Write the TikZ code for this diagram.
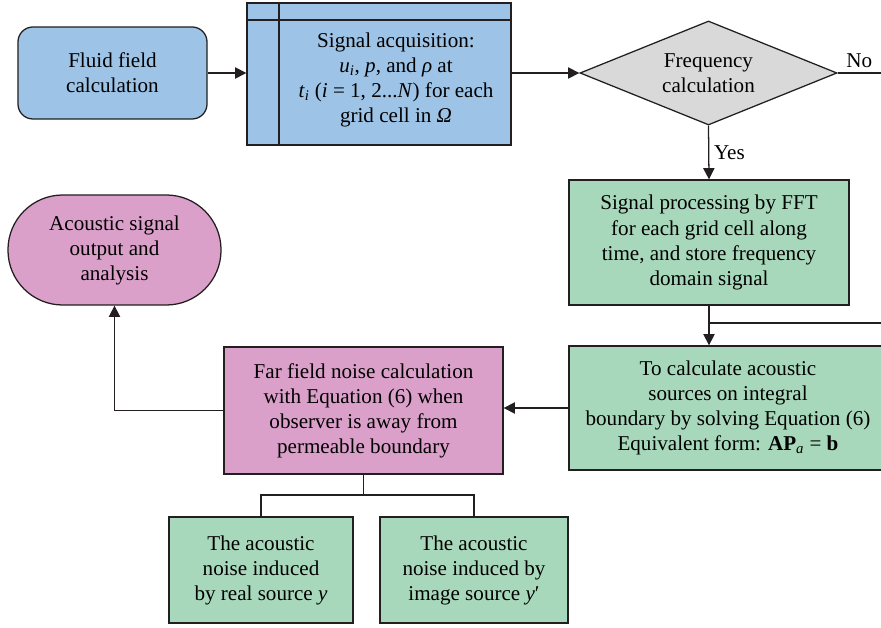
\documentclass[tikz,border=0pt]{standalone}
\usepackage{fontspec}
\setmainfont{Liberation Serif}
\usetikzlibrary{arrows.meta,shapes.geometric}

\definecolor{acqblue}{RGB}{157,195,230}
\definecolor{procgreen}{RGB}{168,216,187}
\definecolor{outpink}{RGB}{219,160,201}
\definecolor{decgray}{RGB}{217,217,217}
\definecolor{linegray}{RGB}{35,31,32}

\tikzset{
  box/.style={draw=linegray,line width=0.9pt,align=center,inner sep=0pt},
  arr/.style={-{Triangle[length=8pt,width=8pt]}},
}

\begin{document}
\begin{tikzpicture}[x=0.025cm,y=-0.025cm,line width=0.9pt,draw=linegray,
    font=\fontsize{15}{17.8}\selectfont]
  \useasboundingbox (0,0) rectangle (881,628);
  \node[box,fill=acqblue,rounded corners=0.375cm,minimum width=4.725cm,minimum height=2.3cm] (fluid) at (112.5,73) {Fluid field\\calculation};
  \node[box,fill=acqblue,minimum width=6.6cm,minimum height=3.55cm] (sigacq) at (379,74) {};
  \node[align=center] (sigtxt) at (396,80) {Signal acquisition:\\\textit{u}\textsubscript{\textit{i}}, \textit{p}, and \textit{ρ} at\\\textit{t}\textsubscript{\textit{i}} (\textit{i} = 1, 2...\textit{N}) for each\\grid cell in \textit{Ω}};
  \node[box,diamond,aspect=2.5,fill=decgray,minimum width=6.425cm,minimum height=2.6cm] (freq) at (708.5,73) {Frequency\\calculation};
  \node[box,fill=procgreen,minimum width=7cm,minimum height=3.125cm] (sigproc) at (709,242.5) {Signal processing by FFT\\for each grid cell along\\time, and store frequency\\domain signal};
  \node[box,fill=procgreen,minimum width=7.95cm,minimum height=3.1cm] (calc) at (728,408) {To calculate acoustic\\sources on integral\\boundary by solving Equation (6)\\Equivalent form: \textbf{AP}\textsubscript{\textit{a}} = \textbf{b}};
  \node[box,fill=outpink,minimum width=6.975cm,minimum height=3.175cm] (farfield) at (363.5,410.5) {Far field noise calculation\\with Equation (6) when\\observer is away from\\permeable boundary};
  \node[box,fill=outpink,rounded corners=1.37cm,minimum width=5.325cm,minimum height=2.75cm] (output) at (114.5,250) {Acoustic signal\\output and\\analysis};
  \node[box,fill=procgreen,minimum width=4.6cm,minimum height=2.65cm] (real) at (261,570) {The acoustic\\noise induced\\by real source \textit{y}};
  \node[box,fill=procgreen,minimum width=4.7cm,minimum height=2.65cm] (image) at (474,570) {The acoustic\\noise induced by\\image source \textit{y}′};
  \coordinate (noout) at (881,73);
  \coordinate (loopin) at (881,323);
  \coordinate (split) at (farfield.south |- 0,495);
  % header strip of the acquisition box
  \draw (sigacq.west |- 0,20) -- (sigacq.east |- 0,20);
  \draw (sigacq.north -| 279,0) -- (sigacq.south -| 279,0);
  \draw[arr] (fluid.east) -- (fluid.east -| sigacq.west);
  \draw[arr] (sigacq.east |- freq.west) -- (freq.west);
  \draw (freq.east) -- (noout) node[midway,above] {No};
  \draw[arr] (freq.south) -- (sigproc.north) node[midway,right] {Yes};
  \draw[arr] (sigproc.south) -- (sigproc.south |- calc.north);
  \draw (loopin) -- (loopin -| sigproc.south);
  \draw[arr] (calc.west) -- (calc.west -| farfield.east);
  \draw[arr] (farfield.west) -| (output.south);
  \draw (farfield.south) -- (split);
  \draw (real.north) |- (split) -| (image.north);
\end{tikzpicture}
\end{document}
